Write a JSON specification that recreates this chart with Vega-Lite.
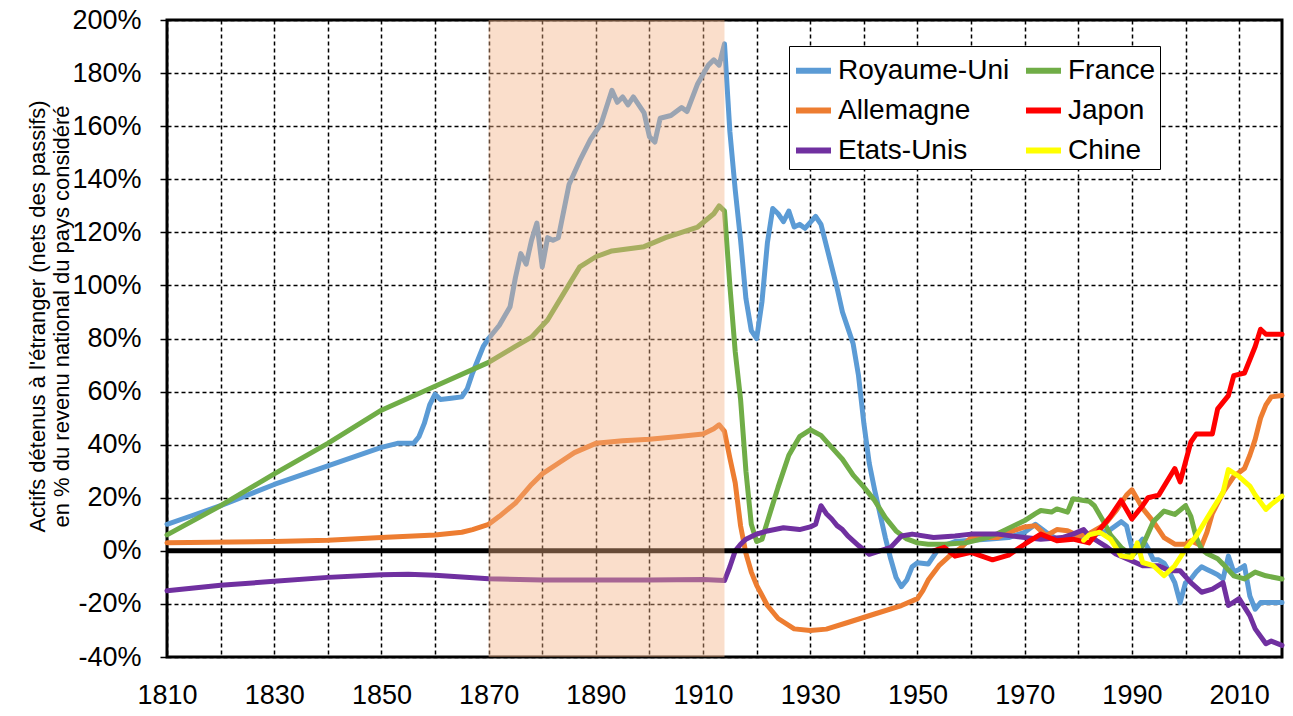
{
  "$schema": "https://vega.github.io/schema/vega-lite/v6.json",
  "width": 1115,
  "height": 637,
  "autosize": {"type": "none"},
  "padding": {"left": 167, "top": 20, "right": 11, "bottom": 59},
  "config": {
    "font": "Liberation Sans",
    "view": {"stroke": "black", "strokeWidth": 3},
    "background": "white"
  },
  "datasets": {
    "series": [
      {"pays": "Royaume-Uni", "annee": 1810, "val": 10},
      {"pays": "Royaume-Uni", "annee": 1815, "val": 13.5},
      {"pays": "Royaume-Uni", "annee": 1820, "val": 17},
      {"pays": "Royaume-Uni", "annee": 1825, "val": 21},
      {"pays": "Royaume-Uni", "annee": 1830, "val": 25},
      {"pays": "Royaume-Uni", "annee": 1835, "val": 28.5},
      {"pays": "Royaume-Uni", "annee": 1840, "val": 32},
      {"pays": "Royaume-Uni", "annee": 1845, "val": 35.5},
      {"pays": "Royaume-Uni", "annee": 1850, "val": 39},
      {"pays": "Royaume-Uni", "annee": 1853, "val": 40.5},
      {"pays": "Royaume-Uni", "annee": 1856, "val": 40.5},
      {"pays": "Royaume-Uni", "annee": 1857, "val": 43},
      {"pays": "Royaume-Uni", "annee": 1858, "val": 48},
      {"pays": "Royaume-Uni", "annee": 1859, "val": 55},
      {"pays": "Royaume-Uni", "annee": 1860, "val": 59},
      {"pays": "Royaume-Uni", "annee": 1861, "val": 57},
      {"pays": "Royaume-Uni", "annee": 1863, "val": 57.5},
      {"pays": "Royaume-Uni", "annee": 1865, "val": 58},
      {"pays": "Royaume-Uni", "annee": 1866, "val": 61},
      {"pays": "Royaume-Uni", "annee": 1867, "val": 67},
      {"pays": "Royaume-Uni", "annee": 1868, "val": 72},
      {"pays": "Royaume-Uni", "annee": 1869, "val": 77},
      {"pays": "Royaume-Uni", "annee": 1870, "val": 80},
      {"pays": "Royaume-Uni", "annee": 1872, "val": 85},
      {"pays": "Royaume-Uni", "annee": 1874, "val": 92},
      {"pays": "Royaume-Uni", "annee": 1875, "val": 103},
      {"pays": "Royaume-Uni", "annee": 1876, "val": 112},
      {"pays": "Royaume-Uni", "annee": 1877, "val": 108},
      {"pays": "Royaume-Uni", "annee": 1878, "val": 117},
      {"pays": "Royaume-Uni", "annee": 1879, "val": 123.5},
      {"pays": "Royaume-Uni", "annee": 1880, "val": 107},
      {"pays": "Royaume-Uni", "annee": 1881, "val": 118},
      {"pays": "Royaume-Uni", "annee": 1882, "val": 117},
      {"pays": "Royaume-Uni", "annee": 1883, "val": 118},
      {"pays": "Royaume-Uni", "annee": 1885, "val": 138},
      {"pays": "Royaume-Uni", "annee": 1887, "val": 147},
      {"pays": "Royaume-Uni", "annee": 1889, "val": 155},
      {"pays": "Royaume-Uni", "annee": 1891, "val": 161},
      {"pays": "Royaume-Uni", "annee": 1893, "val": 173.5},
      {"pays": "Royaume-Uni", "annee": 1894, "val": 169},
      {"pays": "Royaume-Uni", "annee": 1895, "val": 171},
      {"pays": "Royaume-Uni", "annee": 1896, "val": 168},
      {"pays": "Royaume-Uni", "annee": 1897, "val": 171},
      {"pays": "Royaume-Uni", "annee": 1899, "val": 165},
      {"pays": "Royaume-Uni", "annee": 1900, "val": 156},
      {"pays": "Royaume-Uni", "annee": 1901, "val": 154},
      {"pays": "Royaume-Uni", "annee": 1902, "val": 163},
      {"pays": "Royaume-Uni", "annee": 1904, "val": 164},
      {"pays": "Royaume-Uni", "annee": 1906, "val": 167},
      {"pays": "Royaume-Uni", "annee": 1907, "val": 165.5},
      {"pays": "Royaume-Uni", "annee": 1909, "val": 176},
      {"pays": "Royaume-Uni", "annee": 1911, "val": 183},
      {"pays": "Royaume-Uni", "annee": 1912, "val": 185},
      {"pays": "Royaume-Uni", "annee": 1913, "val": 183},
      {"pays": "Royaume-Uni", "annee": 1914, "val": 191},
      {"pays": "Royaume-Uni", "annee": 1915, "val": 158},
      {"pays": "Royaume-Uni", "annee": 1916, "val": 136},
      {"pays": "Royaume-Uni", "annee": 1917, "val": 117},
      {"pays": "Royaume-Uni", "annee": 1918, "val": 95},
      {"pays": "Royaume-Uni", "annee": 1919, "val": 83},
      {"pays": "Royaume-Uni", "annee": 1920, "val": 80},
      {"pays": "Royaume-Uni", "annee": 1921, "val": 94},
      {"pays": "Royaume-Uni", "annee": 1922, "val": 116},
      {"pays": "Royaume-Uni", "annee": 1923, "val": 129},
      {"pays": "Royaume-Uni", "annee": 1924, "val": 127},
      {"pays": "Royaume-Uni", "annee": 1925, "val": 124},
      {"pays": "Royaume-Uni", "annee": 1926, "val": 128},
      {"pays": "Royaume-Uni", "annee": 1927, "val": 122},
      {"pays": "Royaume-Uni", "annee": 1928, "val": 123},
      {"pays": "Royaume-Uni", "annee": 1929, "val": 121.5},
      {"pays": "Royaume-Uni", "annee": 1931, "val": 126},
      {"pays": "Royaume-Uni", "annee": 1932, "val": 123},
      {"pays": "Royaume-Uni", "annee": 1933, "val": 115},
      {"pays": "Royaume-Uni", "annee": 1934, "val": 107},
      {"pays": "Royaume-Uni", "annee": 1935, "val": 99},
      {"pays": "Royaume-Uni", "annee": 1936, "val": 90},
      {"pays": "Royaume-Uni", "annee": 1937, "val": 84},
      {"pays": "Royaume-Uni", "annee": 1938, "val": 78},
      {"pays": "Royaume-Uni", "annee": 1939, "val": 66},
      {"pays": "Royaume-Uni", "annee": 1940, "val": 48},
      {"pays": "Royaume-Uni", "annee": 1941, "val": 33},
      {"pays": "Royaume-Uni", "annee": 1942, "val": 23},
      {"pays": "Royaume-Uni", "annee": 1943, "val": 14},
      {"pays": "Royaume-Uni", "annee": 1944, "val": 5},
      {"pays": "Royaume-Uni", "annee": 1945, "val": -3},
      {"pays": "Royaume-Uni", "annee": 1946, "val": -10},
      {"pays": "Royaume-Uni", "annee": 1947, "val": -13.5},
      {"pays": "Royaume-Uni", "annee": 1948, "val": -11},
      {"pays": "Royaume-Uni", "annee": 1949, "val": -6},
      {"pays": "Royaume-Uni", "annee": 1950, "val": -4.5},
      {"pays": "Royaume-Uni", "annee": 1952, "val": -5},
      {"pays": "Royaume-Uni", "annee": 1953, "val": -2},
      {"pays": "Royaume-Uni", "annee": 1954, "val": 1},
      {"pays": "Royaume-Uni", "annee": 1955, "val": 2},
      {"pays": "Royaume-Uni", "annee": 1957, "val": 3.5},
      {"pays": "Royaume-Uni", "annee": 1960, "val": 4},
      {"pays": "Royaume-Uni", "annee": 1963, "val": 4.4},
      {"pays": "Royaume-Uni", "annee": 1967, "val": 5},
      {"pays": "Royaume-Uni", "annee": 1970, "val": 7},
      {"pays": "Royaume-Uni", "annee": 1972, "val": 10},
      {"pays": "Royaume-Uni", "annee": 1974, "val": 7},
      {"pays": "Royaume-Uni", "annee": 1976, "val": 4.4},
      {"pays": "Royaume-Uni", "annee": 1979, "val": 4.4},
      {"pays": "Royaume-Uni", "annee": 1981, "val": 5.7},
      {"pays": "Royaume-Uni", "annee": 1984, "val": 6.6},
      {"pays": "Royaume-Uni", "annee": 1986, "val": 8},
      {"pays": "Royaume-Uni", "annee": 1988, "val": 11},
      {"pays": "Royaume-Uni", "annee": 1989, "val": 9.4},
      {"pays": "Royaume-Uni", "annee": 1990, "val": 1},
      {"pays": "Royaume-Uni", "annee": 1991, "val": 2},
      {"pays": "Royaume-Uni", "annee": 1992, "val": 4.4},
      {"pays": "Royaume-Uni", "annee": 1993, "val": 1},
      {"pays": "Royaume-Uni", "annee": 1994, "val": -3.4},
      {"pays": "Royaume-Uni", "annee": 1995, "val": -3.4},
      {"pays": "Royaume-Uni", "annee": 1996, "val": -4.6},
      {"pays": "Royaume-Uni", "annee": 1997, "val": -8},
      {"pays": "Royaume-Uni", "annee": 1998, "val": -12},
      {"pays": "Royaume-Uni", "annee": 1999, "val": -19.5},
      {"pays": "Royaume-Uni", "annee": 2000, "val": -12},
      {"pays": "Royaume-Uni", "annee": 2001, "val": -10.6},
      {"pays": "Royaume-Uni", "annee": 2002, "val": -8},
      {"pays": "Royaume-Uni", "annee": 2003, "val": -6},
      {"pays": "Royaume-Uni", "annee": 2004, "val": -7},
      {"pays": "Royaume-Uni", "annee": 2005, "val": -8},
      {"pays": "Royaume-Uni", "annee": 2006, "val": -9},
      {"pays": "Royaume-Uni", "annee": 2007, "val": -10.6},
      {"pays": "Royaume-Uni", "annee": 2008, "val": -2},
      {"pays": "Royaume-Uni", "annee": 2009, "val": -8},
      {"pays": "Royaume-Uni", "annee": 2010, "val": -7},
      {"pays": "Royaume-Uni", "annee": 2011, "val": -5.6},
      {"pays": "Royaume-Uni", "annee": 2012, "val": -17},
      {"pays": "Royaume-Uni", "annee": 2013, "val": -22},
      {"pays": "Royaume-Uni", "annee": 2014, "val": -19.5},
      {"pays": "Royaume-Uni", "annee": 2018, "val": -19.5},

      {"pays": "Allemagne", "annee": 1810, "val": 3},
      {"pays": "Allemagne", "annee": 1830, "val": 3.5},
      {"pays": "Allemagne", "annee": 1840, "val": 4},
      {"pays": "Allemagne", "annee": 1850, "val": 5},
      {"pays": "Allemagne", "annee": 1860, "val": 6},
      {"pays": "Allemagne", "annee": 1865, "val": 7},
      {"pays": "Allemagne", "annee": 1867, "val": 8},
      {"pays": "Allemagne", "annee": 1870, "val": 10},
      {"pays": "Allemagne", "annee": 1872, "val": 13},
      {"pays": "Allemagne", "annee": 1875, "val": 18},
      {"pays": "Allemagne", "annee": 1878, "val": 25},
      {"pays": "Allemagne", "annee": 1880, "val": 29},
      {"pays": "Allemagne", "annee": 1883, "val": 33},
      {"pays": "Allemagne", "annee": 1886, "val": 37},
      {"pays": "Allemagne", "annee": 1890, "val": 40.5},
      {"pays": "Allemagne", "annee": 1895, "val": 41.5},
      {"pays": "Allemagne", "annee": 1900, "val": 42},
      {"pays": "Allemagne", "annee": 1905, "val": 43},
      {"pays": "Allemagne", "annee": 1910, "val": 44},
      {"pays": "Allemagne", "annee": 1912, "val": 46},
      {"pays": "Allemagne", "annee": 1913, "val": 47.5},
      {"pays": "Allemagne", "annee": 1914, "val": 45},
      {"pays": "Allemagne", "annee": 1915, "val": 35},
      {"pays": "Allemagne", "annee": 1916, "val": 25.6},
      {"pays": "Allemagne", "annee": 1917, "val": 9.4},
      {"pays": "Allemagne", "annee": 1918, "val": -1},
      {"pays": "Allemagne", "annee": 1919, "val": -8},
      {"pays": "Allemagne", "annee": 1920, "val": -13},
      {"pays": "Allemagne", "annee": 1922, "val": -20.6},
      {"pays": "Allemagne", "annee": 1924, "val": -25.5},
      {"pays": "Allemagne", "annee": 1927, "val": -29.4},
      {"pays": "Allemagne", "annee": 1930, "val": -30},
      {"pays": "Allemagne", "annee": 1933, "val": -29.5},
      {"pays": "Allemagne", "annee": 1937, "val": -27},
      {"pays": "Allemagne", "annee": 1942, "val": -23.8},
      {"pays": "Allemagne", "annee": 1947, "val": -20.6},
      {"pays": "Allemagne", "annee": 1950, "val": -18},
      {"pays": "Allemagne", "annee": 1951, "val": -15},
      {"pays": "Allemagne", "annee": 1952, "val": -11},
      {"pays": "Allemagne", "annee": 1954, "val": -5.6},
      {"pays": "Allemagne", "annee": 1956, "val": -1.9},
      {"pays": "Allemagne", "annee": 1958, "val": 1},
      {"pays": "Allemagne", "annee": 1959, "val": 3},
      {"pays": "Allemagne", "annee": 1960, "val": 5},
      {"pays": "Allemagne", "annee": 1965, "val": 5},
      {"pays": "Allemagne", "annee": 1967, "val": 7},
      {"pays": "Allemagne", "annee": 1970, "val": 9},
      {"pays": "Allemagne", "annee": 1972, "val": 9.5},
      {"pays": "Allemagne", "annee": 1974, "val": 5.7},
      {"pays": "Allemagne", "annee": 1976, "val": 8},
      {"pays": "Allemagne", "annee": 1978, "val": 7.6},
      {"pays": "Allemagne", "annee": 1980, "val": 5.7},
      {"pays": "Allemagne", "annee": 1982, "val": 6.5},
      {"pays": "Allemagne", "annee": 1985, "val": 10},
      {"pays": "Allemagne", "annee": 1987, "val": 15},
      {"pays": "Allemagne", "annee": 1989, "val": 21},
      {"pays": "Allemagne", "annee": 1990, "val": 23},
      {"pays": "Allemagne", "annee": 1992, "val": 16},
      {"pays": "Allemagne", "annee": 1994, "val": 11},
      {"pays": "Allemagne", "annee": 1996, "val": 5},
      {"pays": "Allemagne", "annee": 1998, "val": 2.5},
      {"pays": "Allemagne", "annee": 2000, "val": 2.5},
      {"pays": "Allemagne", "annee": 2001, "val": 3.8},
      {"pays": "Allemagne", "annee": 2003, "val": 1.9},
      {"pays": "Allemagne", "annee": 2004, "val": 7},
      {"pays": "Allemagne", "annee": 2005, "val": 14},
      {"pays": "Allemagne", "annee": 2007, "val": 22},
      {"pays": "Allemagne", "annee": 2009, "val": 28},
      {"pays": "Allemagne", "annee": 2011, "val": 31},
      {"pays": "Allemagne", "annee": 2012, "val": 36},
      {"pays": "Allemagne", "annee": 2013, "val": 42},
      {"pays": "Allemagne", "annee": 2014, "val": 50},
      {"pays": "Allemagne", "annee": 2015, "val": 55},
      {"pays": "Allemagne", "annee": 2016, "val": 58},
      {"pays": "Allemagne", "annee": 2018, "val": 58.5},

      {"pays": "France", "annee": 1810, "val": 6},
      {"pays": "France", "annee": 1820, "val": 17},
      {"pays": "France", "annee": 1830, "val": 29},
      {"pays": "France", "annee": 1840, "val": 40.5},
      {"pays": "France", "annee": 1850, "val": 53},
      {"pays": "France", "annee": 1860, "val": 62},
      {"pays": "France", "annee": 1870, "val": 71},
      {"pays": "France", "annee": 1875, "val": 77},
      {"pays": "France", "annee": 1878, "val": 80.5},
      {"pays": "France", "annee": 1881, "val": 87},
      {"pays": "France", "annee": 1884, "val": 97},
      {"pays": "France", "annee": 1887, "val": 107},
      {"pays": "France", "annee": 1890, "val": 110.8},
      {"pays": "France", "annee": 1893, "val": 113},
      {"pays": "France", "annee": 1899, "val": 114.6},
      {"pays": "France", "annee": 1903, "val": 118},
      {"pays": "France", "annee": 1909, "val": 122},
      {"pays": "France", "annee": 1912, "val": 127},
      {"pays": "France", "annee": 1913, "val": 130},
      {"pays": "France", "annee": 1914, "val": 128},
      {"pays": "France", "annee": 1915, "val": 100},
      {"pays": "France", "annee": 1916, "val": 75},
      {"pays": "France", "annee": 1917, "val": 57},
      {"pays": "France", "annee": 1918, "val": 30},
      {"pays": "France", "annee": 1919, "val": 10},
      {"pays": "France", "annee": 1920, "val": 3.5},
      {"pays": "France", "annee": 1921, "val": 4.4},
      {"pays": "France", "annee": 1922, "val": 11},
      {"pays": "France", "annee": 1924, "val": 24},
      {"pays": "France", "annee": 1926, "val": 36},
      {"pays": "France", "annee": 1928, "val": 43},
      {"pays": "France", "annee": 1930, "val": 45.6},
      {"pays": "France", "annee": 1932, "val": 43.5},
      {"pays": "France", "annee": 1934, "val": 39},
      {"pays": "France", "annee": 1936, "val": 34.5},
      {"pays": "France", "annee": 1938, "val": 28.5},
      {"pays": "France", "annee": 1940, "val": 24},
      {"pays": "France", "annee": 1942, "val": 19},
      {"pays": "France", "annee": 1944, "val": 12.5},
      {"pays": "France", "annee": 1946, "val": 7.5},
      {"pays": "France", "annee": 1948, "val": 4.5},
      {"pays": "France", "annee": 1950, "val": 3},
      {"pays": "France", "annee": 1952, "val": 2.5},
      {"pays": "France", "annee": 1955, "val": 2.5},
      {"pays": "France", "annee": 1959, "val": 3},
      {"pays": "France", "annee": 1963, "val": 5},
      {"pays": "France", "annee": 1965, "val": 6.5},
      {"pays": "France", "annee": 1968, "val": 9.5},
      {"pays": "France", "annee": 1970, "val": 11.4},
      {"pays": "France", "annee": 1972, "val": 14},
      {"pays": "France", "annee": 1973, "val": 15.2},
      {"pays": "France", "annee": 1975, "val": 14.6},
      {"pays": "France", "annee": 1976, "val": 15.8},
      {"pays": "France", "annee": 1978, "val": 14.6},
      {"pays": "France", "annee": 1979, "val": 19.6},
      {"pays": "France", "annee": 1981, "val": 19},
      {"pays": "France", "annee": 1982, "val": 18.7},
      {"pays": "France", "annee": 1983, "val": 17},
      {"pays": "France", "annee": 1985, "val": 10},
      {"pays": "France", "annee": 1986, "val": 6},
      {"pays": "France", "annee": 1988, "val": 1.3},
      {"pays": "France", "annee": 1990, "val": -1.9},
      {"pays": "France", "annee": 1992, "val": 1.9},
      {"pays": "France", "annee": 1994, "val": 11},
      {"pays": "France", "annee": 1996, "val": 15},
      {"pays": "France", "annee": 1998, "val": 13.7},
      {"pays": "France", "annee": 2000, "val": 17},
      {"pays": "France", "annee": 2001, "val": 13},
      {"pays": "France", "annee": 2002, "val": 5},
      {"pays": "France", "annee": 2003, "val": 0.6},
      {"pays": "France", "annee": 2004, "val": -1},
      {"pays": "France", "annee": 2006, "val": -3},
      {"pays": "France", "annee": 2007, "val": -5},
      {"pays": "France", "annee": 2009, "val": -9.4},
      {"pays": "France", "annee": 2011, "val": -10.6},
      {"pays": "France", "annee": 2013, "val": -8},
      {"pays": "France", "annee": 2015, "val": -9.4},
      {"pays": "France", "annee": 2018, "val": -10.6},

      {"pays": "Etats-Unis", "annee": 1810, "val": -15},
      {"pays": "Etats-Unis", "annee": 1820, "val": -13},
      {"pays": "Etats-Unis", "annee": 1830, "val": -11.5},
      {"pays": "Etats-Unis", "annee": 1840, "val": -10},
      {"pays": "Etats-Unis", "annee": 1850, "val": -9},
      {"pays": "Etats-Unis", "annee": 1855, "val": -8.8},
      {"pays": "Etats-Unis", "annee": 1860, "val": -9.2},
      {"pays": "Etats-Unis", "annee": 1870, "val": -10.5},
      {"pays": "Etats-Unis", "annee": 1880, "val": -11},
      {"pays": "Etats-Unis", "annee": 1890, "val": -11},
      {"pays": "Etats-Unis", "annee": 1900, "val": -11},
      {"pays": "Etats-Unis", "annee": 1910, "val": -10.8},
      {"pays": "Etats-Unis", "annee": 1914, "val": -11.2},
      {"pays": "Etats-Unis", "annee": 1915, "val": -6},
      {"pays": "Etats-Unis", "annee": 1916, "val": 0},
      {"pays": "Etats-Unis", "annee": 1917, "val": 2.5},
      {"pays": "Etats-Unis", "annee": 1918, "val": 4.4},
      {"pays": "Etats-Unis", "annee": 1920, "val": 6.3},
      {"pays": "Etats-Unis", "annee": 1922, "val": 7.5},
      {"pays": "Etats-Unis", "annee": 1925, "val": 8.7},
      {"pays": "Etats-Unis", "annee": 1928, "val": 8},
      {"pays": "Etats-Unis", "annee": 1930, "val": 9},
      {"pays": "Etats-Unis", "annee": 1931, "val": 10},
      {"pays": "Etats-Unis", "annee": 1932, "val": 17},
      {"pays": "Etats-Unis", "annee": 1933, "val": 14},
      {"pays": "Etats-Unis", "annee": 1934, "val": 12},
      {"pays": "Etats-Unis", "annee": 1935, "val": 9.5},
      {"pays": "Etats-Unis", "annee": 1936, "val": 8},
      {"pays": "Etats-Unis", "annee": 1937, "val": 5.6},
      {"pays": "Etats-Unis", "annee": 1939, "val": 2},
      {"pays": "Etats-Unis", "annee": 1941, "val": -1.3},
      {"pays": "Etats-Unis", "annee": 1943, "val": 0},
      {"pays": "Etats-Unis", "annee": 1945, "val": 1.3},
      {"pays": "Etats-Unis", "annee": 1947, "val": 5.6},
      {"pays": "Etats-Unis", "annee": 1949, "val": 6.3},
      {"pays": "Etats-Unis", "annee": 1953, "val": 5},
      {"pays": "Etats-Unis", "annee": 1957, "val": 5.6},
      {"pays": "Etats-Unis", "annee": 1960, "val": 6.3},
      {"pays": "Etats-Unis", "annee": 1965, "val": 6.3},
      {"pays": "Etats-Unis", "annee": 1970, "val": 5},
      {"pays": "Etats-Unis", "annee": 1973, "val": 4.4},
      {"pays": "Etats-Unis", "annee": 1977, "val": 5},
      {"pays": "Etats-Unis", "annee": 1979, "val": 6.3},
      {"pays": "Etats-Unis", "annee": 1981, "val": 8},
      {"pays": "Etats-Unis", "annee": 1982, "val": 5.6},
      {"pays": "Etats-Unis", "annee": 1985, "val": 1.9},
      {"pays": "Etats-Unis", "annee": 1987, "val": -1.2},
      {"pays": "Etats-Unis", "annee": 1990, "val": -3.8},
      {"pays": "Etats-Unis", "annee": 1992, "val": -5.6},
      {"pays": "Etats-Unis", "annee": 1995, "val": -5.6},
      {"pays": "Etats-Unis", "annee": 1997, "val": -7.5},
      {"pays": "Etats-Unis", "annee": 1999, "val": -7.5},
      {"pays": "Etats-Unis", "annee": 2001, "val": -12},
      {"pays": "Etats-Unis", "annee": 2003, "val": -15.6},
      {"pays": "Etats-Unis", "annee": 2005, "val": -14.4},
      {"pays": "Etats-Unis", "annee": 2007, "val": -12},
      {"pays": "Etats-Unis", "annee": 2008, "val": -20.6},
      {"pays": "Etats-Unis", "annee": 2010, "val": -18},
      {"pays": "Etats-Unis", "annee": 2012, "val": -24.4},
      {"pays": "Etats-Unis", "annee": 2013, "val": -29.4},
      {"pays": "Etats-Unis", "annee": 2015, "val": -35},
      {"pays": "Etats-Unis", "annee": 2016, "val": -34},
      {"pays": "Etats-Unis", "annee": 2018, "val": -35.6},

      {"pays": "Japon", "annee": 1953, "val": 0},
      {"pays": "Japon", "annee": 1955, "val": 1.3},
      {"pays": "Japon", "annee": 1957, "val": -2},
      {"pays": "Japon", "annee": 1960, "val": -0.6},
      {"pays": "Japon", "annee": 1962, "val": -2},
      {"pays": "Japon", "annee": 1964, "val": -3.4},
      {"pays": "Japon", "annee": 1967, "val": -1.6},
      {"pays": "Japon", "annee": 1970, "val": 2.5},
      {"pays": "Japon", "annee": 1973, "val": 6.3},
      {"pays": "Japon", "annee": 1976, "val": 3.8},
      {"pays": "Japon", "annee": 1979, "val": 4.4},
      {"pays": "Japon", "annee": 1982, "val": 3},
      {"pays": "Japon", "annee": 1984, "val": 8},
      {"pays": "Japon", "annee": 1986, "val": 13},
      {"pays": "Japon", "annee": 1988, "val": 19},
      {"pays": "Japon", "annee": 1990, "val": 12},
      {"pays": "Japon", "annee": 1992, "val": 17},
      {"pays": "Japon", "annee": 1993, "val": 20},
      {"pays": "Japon", "annee": 1995, "val": 21},
      {"pays": "Japon", "annee": 1998, "val": 31},
      {"pays": "Japon", "annee": 1999, "val": 26},
      {"pays": "Japon", "annee": 2001, "val": 41},
      {"pays": "Japon", "annee": 2002, "val": 44},
      {"pays": "Japon", "annee": 2005, "val": 44},
      {"pays": "Japon", "annee": 2006, "val": 53.5},
      {"pays": "Japon", "annee": 2008, "val": 58.5},
      {"pays": "Japon", "annee": 2009, "val": 66},
      {"pays": "Japon", "annee": 2011, "val": 67},
      {"pays": "Japon", "annee": 2013, "val": 77},
      {"pays": "Japon", "annee": 2014, "val": 83.5},
      {"pays": "Japon", "annee": 2015, "val": 81.6},
      {"pays": "Japon", "annee": 2018, "val": 81.6},

      {"pays": "Chine", "annee": 1981, "val": 4},
      {"pays": "Chine", "annee": 1982, "val": 6},
      {"pays": "Chine", "annee": 1984, "val": 7},
      {"pays": "Chine", "annee": 1986, "val": 4.4},
      {"pays": "Chine", "annee": 1988, "val": -1.9},
      {"pays": "Chine", "annee": 1990, "val": -2.5},
      {"pays": "Chine", "annee": 1991, "val": 3},
      {"pays": "Chine", "annee": 1992, "val": -4.4},
      {"pays": "Chine", "annee": 1994, "val": -5.6},
      {"pays": "Chine", "annee": 1996, "val": -9.4},
      {"pays": "Chine", "annee": 1998, "val": -5.6},
      {"pays": "Chine", "annee": 2000, "val": 0.6},
      {"pays": "Chine", "annee": 2002, "val": 5.6},
      {"pays": "Chine", "annee": 2005, "val": 15.6},
      {"pays": "Chine", "annee": 2007, "val": 22},
      {"pays": "Chine", "annee": 2008, "val": 30.6},
      {"pays": "Chine", "annee": 2010, "val": 28},
      {"pays": "Chine", "annee": 2012, "val": 24.4},
      {"pays": "Chine", "annee": 2013, "val": 21},
      {"pays": "Chine", "annee": 2015, "val": 15.6},
      {"pays": "Chine", "annee": 2016, "val": 17.5},
      {"pays": "Chine", "annee": 2018, "val": 20.6}
    ]
  },
  "layer": [
    {
      "data": {"name": "series"},
      "mark": {"type": "line", "strokeWidth": 5, "strokeJoin": "round", "strokeCap": "round"},
      "encoding": {
        "x": {
          "field": "annee", "type": "quantitative",
          "scale": {"domain": [1810, 2018], "nice": false, "zero": false},
          "axis": {
            "title": null,
            "values": [1810, 1820, 1830, 1840, 1850, 1860, 1870, 1880, 1890, 1900, 1910, 1920, 1930, 1940, 1950, 1960, 1970, 1980, 1990, 2000, 2010],
            "labelExpr": "(datum.value - 1810) % 20 == 0 ? datum.value + '' : ''",
            "grid": true, "gridColor": "black", "gridDash": [4, 3], "gridWidth": 1.5, "gridOpacity": 1,
            "ticks": false, "domain": false,
            "labelFontSize": 27, "labelColor": "black", "labelPadding": 25,
            "labelFlush": false, "labelOverlap": false
          }
        },
        "y": {
          "field": "val", "type": "quantitative",
          "scale": {"domain": [-40, 200], "nice": false, "zero": false},
          "axis": {
            "values": [-40, -20, 0, 20, 40, 60, 80, 100, 120, 140, 160, 180, 200],
            "labelExpr": "datum.value + '%'",
            "grid": true, "gridColor": "black", "gridDash": [4, 3], "gridWidth": 1.5, "gridOpacity": 1,
            "ticks": true, "tickSize": 7, "tickColor": "black", "tickWidth": 1.5,
            "domain": false,
            "labelFontSize": 27, "labelColor": "black", "labelPadding": 19,
            "title": ["Actifs détenus à l'étranger (nets des passifs)", "en % du revenu national du pays considéré"],
            "titleFontSize": 22, "titleFontWeight": "normal", "titleColor": "black",
            "titleAngle": -90, "titleX": -130, "titleY": 296, "titleAlign": "center",
            "titleBaseline": "middle", "titleLineHeight": 24
          }
        },
        "color": {
          "field": "pays", "type": "nominal",
          "scale": {
            "domain": ["Royaume-Uni", "Allemagne", "Etats-Unis", "France", "Japon", "Chine"],
            "range": ["#5b9bd5", "#ed7d31", "#7030a0", "#70ad47", "#ff0000", "#ffff00"]
          },
          "legend": {
            "title": null, "orient": "none", "legendX": 622, "legendY": 26,
            "columns": 2, "symbolType": "stroke", "symbolSize": 1225, "symbolStrokeWidth": 6,
            "labelFontSize": 28, "labelColor": "black", "labelOffset": 4, "labelLimit": 400,
            "padding": 4, "rowPadding": 5, "columnPadding": 4,
            "strokeColor": "black", "fillColor": "white"
          }
        }
      }
    },
    {
      "data": {"values": [{}]},
      "mark": {"type": "rule", "color": "black", "strokeWidth": 5},
      "encoding": {"y": {"datum": 0}}
    },
    {
      "data": {"values": [{}]},
      "mark": {"type": "rect", "color": "#f4b183", "opacity": 0.42},
      "encoding": {"x": {"datum": 1870}, "x2": {"datum": 1914}, "y": {"datum": 200}, "y2": {"datum": -40}}
    }
  ]
}
